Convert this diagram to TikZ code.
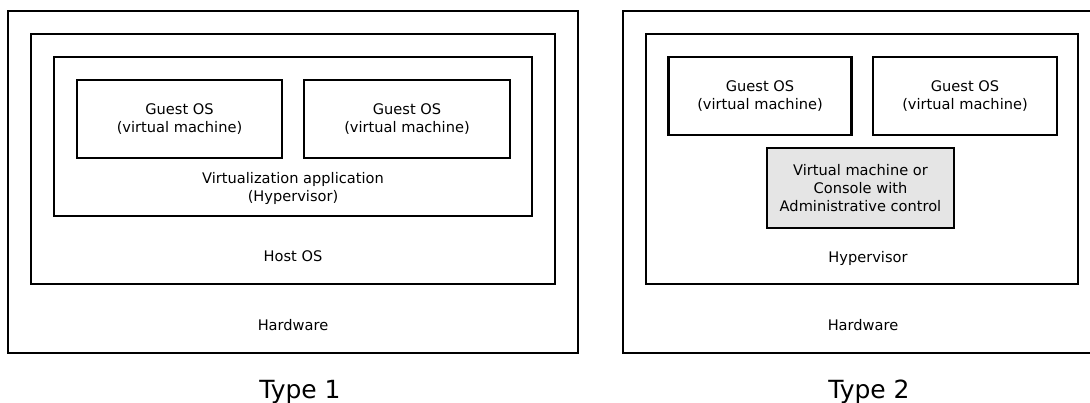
\documentclass[tikz,border=0pt]{standalone}
\usepackage{fontspec}
\setmainfont{DejaVu Sans}
\usetikzlibrary{positioning}

\definecolor{consolegray}{gray}{0.9}
\tikzset{
	layer/.style={draw, line width=2.3pt, rectangle, inner sep=0pt},
	caption/.style={font=\fontsize{14.6}{18}\selectfont, align=center, inner sep=0pt},
	typename/.style={font=\fontsize{25}{29}\selectfont, inner sep=0pt, anchor=base},
}

\begin{document}
\begin{tikzpicture}[x=1pt, y=-1pt]
	\useasboundingbox (0,0) rectangle (1090,403);
	% Type 1
	\node [layer, minimum width=570pt, minimum height=342pt] (hwA) at (293,182) {};
	\node [layer, minimum width=524pt, minimum height=250pt] (hostA) at (293,159) {};
	\node [layer, minimum width=478pt, minimum height=159pt] (virtA) at (293,136.5) {};
	\node [layer, caption, minimum width=205pt, minimum height=78pt] (guestAa) at (179.5,119) {Guest OS\\(virtual machine)};
	\node [layer, caption, minimum width=206pt, minimum height=78pt] (guestAb) at (407,119) {Guest OS\\(virtual machine)};
	\node [caption] (virtAtxt) at (293,188) {Virtualization application\\(Hypervisor)};
	\node [caption, anchor=base] (hostAtxt) at (293,261.7) {Host OS};
	\node [caption, anchor=base] (hwAtxt) at (293,330.7) {Hardware};
	\node [typename] (typeA) at (300,398) {Type 1};
	% Type 2
	\node [layer, minimum width=478pt, minimum height=342pt] (hwB) at (862,182) {};
	\node [layer, minimum width=432pt, minimum height=250pt] (hypB) at (862,159) {};
	\node [layer, caption, minimum width=183pt, minimum height=78pt] (guestBa) at (760,96) {Guest OS\\(virtual machine)};
	\node [layer, caption, minimum width=184pt, minimum height=78pt] (guestBb) at (965,96) {Guest OS\\(virtual machine)};
	\node [layer, caption, fill=consolegray, minimum width=187pt, minimum height=80pt] (consoleB) at (860.5,188) {Virtual machine or\\Console with\\Administrative control};
	\node [caption, anchor=base] (hypBtxt) at (868,262.3) {Hypervisor};
	\node [caption, anchor=base] (hwBtxt) at (863,330.7) {Hardware};
	\node [typename] (typeB) at (869,398) {Type 2};
\end{tikzpicture}
\end{document}
